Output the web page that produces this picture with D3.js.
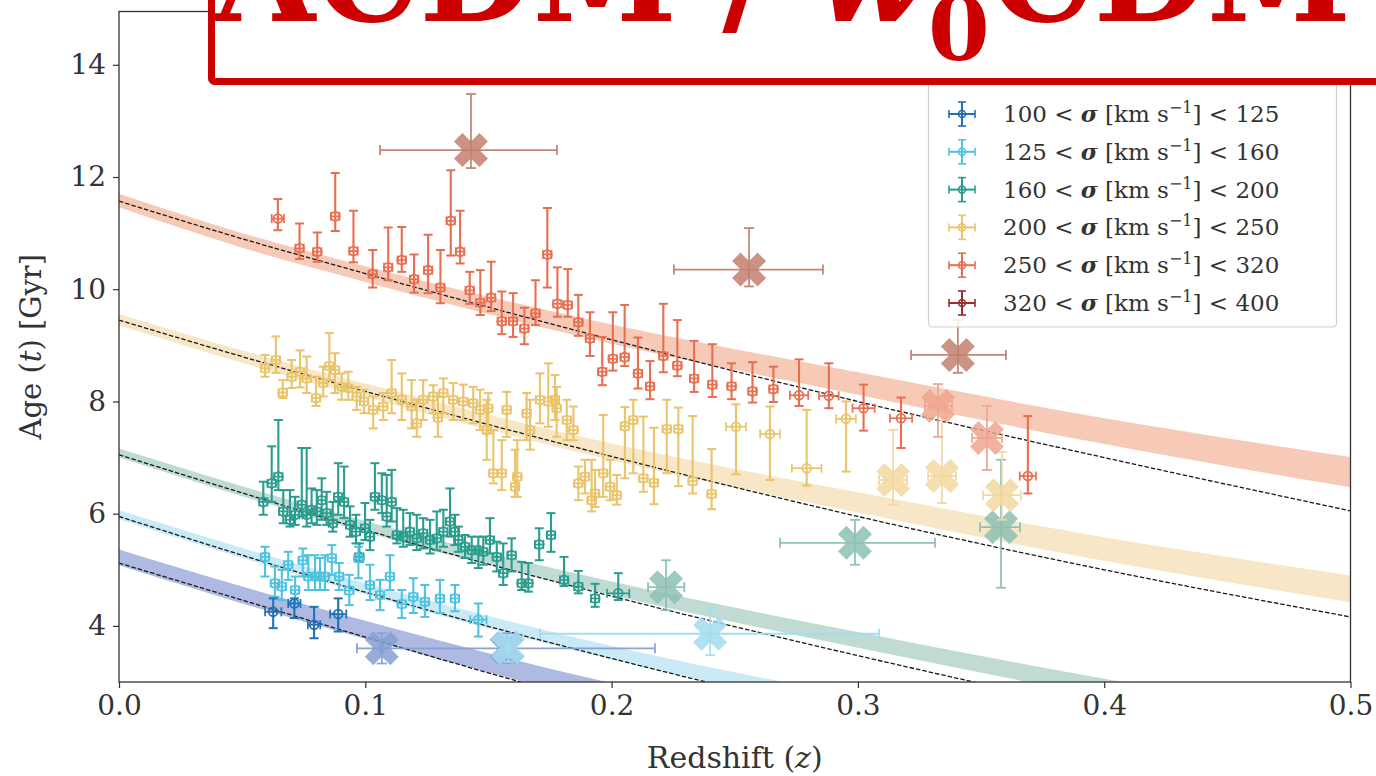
<!DOCTYPE html>
<html><head><meta charset="utf-8">
<script src="https://cdn.jsdelivr.net/npm/d3@7"></script>
<style>body{margin:0;background:#fff}svg{display:block}</style>
</head><body>
<svg id="chart" width="1376" height="776"></svg>
<script>
// ---------------- DATA ----------------
const xTicks = [0.0, 0.1, 0.2, 0.3, 0.4, 0.5];
const yTicks = [4, 6, 8, 10, 12, 14];
const binLabels = [["100","125"],["125","160"],["160","200"],["200","250"],["250","320"],["320","400"]];

// points: [z, age, ageMin, ageMax, zErr(optional)]
const pts100 = [
  [0.0626,4.25,3.96,4.49,0.0033],[0.0712,4.40,4.14,4.49,0.0025],
  [0.0792,4.02,3.78,4.34,0.0025],[0.0890,4.21,3.90,4.49,0.0033]
];
const pts125 = [
  [0.0593,5.23,4.88,5.41],[0.0633,4.76,4.52,5.06],[0.0661,4.70,4.46,5.00],[0.0687,5.09,4.82,5.32],
  [0.0715,4.64,4.40,4.88],[0.0746,5.17,4.88,5.38],[0.0769,4.88,4.64,5.26],[0.0796,4.88,4.64,5.26],
  [0.0816,4.88,4.64,5.21],[0.0836,4.88,4.64,5.26],[0.0864,5.21,4.91,5.44],[0.0894,4.88,4.64,5.12],
  [0.0935,4.63,4.37,4.91],[0.0972,5.21,4.85,5.41],[0.1019,4.73,4.46,5.09],[0.1060,4.55,4.28,4.82],
  [0.1100,4.88,4.64,5.26],[0.1148,4.39,4.14,4.64],[0.1195,4.52,4.23,4.85],[0.1242,4.43,4.16,4.73],
  [0.1303,4.49,4.23,4.82],[0.1364,4.49,4.26,4.73],[0.1459,4.11,3.81,4.40,0.0033]
];
const pts160 = [
  [0.0586,6.21,5.98,6.57],[0.0620,6.54,6.21,7.20],[0.0647,6.66,6.42,7.67],[0.0667,6.04,5.83,6.42],
  [0.0694,5.89,5.77,6.42],[0.0715,5.98,5.80,6.30],[0.0742,6.16,5.95,7.17],[0.0762,5.98,5.77,7.17],
  [0.0782,6.07,5.83,6.45],[0.0803,6.04,5.80,6.42],[0.0823,6.24,5.89,6.63],[0.0843,6.01,5.80,6.39],
  [0.0868,5.83,5.68,6.21],[0.0890,6.30,5.98,6.90],[0.0914,6.21,5.92,6.84],[0.0938,5.80,5.59,6.13],
  [0.0962,5.68,5.47,5.98],[0.0976,5.23,5.14,5.47],[0.0999,5.74,5.53,6.19],[0.1019,5.59,5.35,5.89],
  [0.1039,6.30,6.07,6.90],[0.1067,6.24,6.01,6.72],[0.1087,5.95,5.77,6.69],[0.1107,6.21,5.86,6.78],
  [0.1128,5.62,5.47,6.10],[0.1154,5.59,5.41,6.07],[0.1181,5.68,5.44,6.01],[0.1209,5.56,5.35,5.98],
  [0.1235,5.65,5.38,5.92],[0.1263,5.53,5.29,5.89],[0.1290,5.56,5.35,6.04],[0.1317,5.68,5.41,6.07],
  [0.1344,5.86,5.59,6.45],[0.1364,5.68,5.44,5.98],[0.1378,5.53,5.32,5.77],[0.1405,5.41,5.21,5.62],
  [0.1432,5.35,5.12,5.59],[0.1459,5.35,5.03,5.59],[0.1479,5.32,5.09,5.59],[0.1506,5.53,5.29,5.92],
  [0.1534,5.23,4.97,5.50],[0.1560,4.94,4.73,5.47],[0.1594,5.26,4.97,5.56],[0.1635,4.76,4.64,5.14],
  [0.1662,4.76,4.61,5.12],[0.1706,5.45,5.17,5.74],[0.1754,5.62,5.32,6.01],[0.1807,4.82,4.71,5.23],
  [0.1865,4.70,4.58,4.98],[0.1933,4.49,4.34,4.75],[0.2027,4.58,4.46,4.94,0.0045]
];
const pts200 = [
  [0.0593,8.59,8.44,8.83],[0.0637,8.74,8.51,9.16],[0.0665,8.16,8.06,8.38],[0.0701,8.44,8.24,8.74],
  [0.0735,8.53,8.25,8.91],[0.0762,8.41,8.15,8.80],[0.0800,8.06,7.92,8.44],[0.0829,8.33,8.09,8.62],
  [0.0854,8.63,8.38,9.22],[0.0877,8.56,8.15,8.86],[0.0904,8.26,8.03,8.50],[0.0931,8.24,8.03,8.53],
  [0.0965,8.09,7.85,8.26],[0.0995,8.00,7.79,8.21],[0.1032,7.85,7.52,8.09],[0.1073,7.91,7.67,8.15],
  [0.1107,8.15,7.79,8.74],[0.1148,8.03,7.67,8.50],[0.1188,7.91,7.52,8.38],[0.1209,7.61,7.37,8.03],
  [0.1235,8.03,7.67,8.38],[0.1276,8.09,7.79,8.29],[0.1295,7.71,7.37,8.09],[0.1317,8.15,7.79,8.41],
  [0.1357,8.03,7.67,8.33],[0.1398,8.00,7.67,8.30],[0.1438,7.97,7.61,8.26],[0.1466,7.85,7.49,8.21],
  [0.1493,7.49,6.96,8.03],[0.1499,7.88,7.43,8.15],[0.1520,6.72,6.54,7.49],[0.1554,6.72,6.42,7.31],
  [0.1574,7.85,7.37,8.17],[0.1608,6.48,6.30,7.14],[0.1617,6.66,6.30,7.31],[0.1655,7.79,7.31,8.15],
  [0.1669,7.49,7.14,8.03],[0.1709,8.03,7.61,8.50],[0.1743,8.00,7.55,8.68],[0.1770,8.03,7.67,8.47],
  [0.1777,7.88,7.37,8.26],[0.1818,7.67,7.31,8.03],[0.1845,7.49,7.31,7.91],[0.1865,6.54,6.24,6.84],
  [0.1892,6.66,6.36,6.96],[0.1919,6.24,6.04,6.96],[0.1933,6.36,6.12,6.78],[0.1966,6.72,6.30,7.76],
  [0.1994,6.48,6.24,6.96],[0.2021,6.33,6.16,6.69],[0.2054,7.56,6.63,7.90],[0.2088,7.67,6.72,8.03],
  [0.2129,6.63,6.39,7.73],[0.2172,6.55,6.17,7.53],[0.2224,7.51,6.72,8.03],[0.2271,7.51,6.49,7.89],
  [0.2329,6.58,6.36,7.74],[0.2406,6.35,6.08,7.15],[0.2505,7.55,6.70,7.95,0.004],[0.2643,7.42,6.60,7.91,0.004],
  [0.2792,6.81,6.50,7.85,0.006],[0.2952,7.69,6.75,8.00,0.004]
];
const pts250 = [
  [0.0645,11.26,11.05,11.61,0.0025],[0.0733,10.73,10.54,11.17],[0.0805,10.67,10.49,11.01],[0.0878,11.30,11.04,12.07],
  [0.0952,10.68,10.48,11.40],[0.1030,10.27,10.03,10.70],[0.1093,10.39,10.16,11.10],[0.1148,10.52,10.31,11.11],
  [0.1198,10.18,9.94,10.62],[0.1255,10.34,9.93,10.97],[0.1305,10.03,9.75,10.70],[0.1347,11.22,10.60,12.12],
  [0.1385,10.67,10.46,11.40],[0.1424,9.98,9.74,10.31],[0.1467,9.76,9.54,10.34],[0.1511,9.85,9.61,10.49],
  [0.1554,9.43,9.20,9.96],[0.1600,9.43,9.15,9.93],[0.1646,9.30,9.02,9.67],[0.1691,9.57,9.36,10.16],
  [0.1739,10.62,10.03,11.45],[0.1780,9.74,9.51,10.39],[0.1822,9.72,9.51,10.36],[0.1865,9.41,9.17,9.90],
  [0.1912,9.12,8.81,9.59],[0.1962,8.53,8.29,9.15],[0.2005,8.76,8.55,9.59],[0.2053,8.79,8.63,9.72],
  [0.2107,8.50,8.23,9.14],[0.2156,8.27,8.04,8.72],[0.2210,8.81,8.52,9.74],[0.2267,8.64,8.45,9.45],
  [0.2335,8.41,8.17,9.08],[0.2409,8.30,8.08,9.02],[0.2487,8.27,8.04,8.68],[0.2572,8.18,7.98,8.70],
  [0.2657,8.22,7.99,8.62],[0.2761,8.11,7.92,8.75,0.0037],[0.2882,8.10,7.88,8.68,0.004],[0.3023,7.88,7.48,8.30,0.0045],
  [0.3175,7.70,7.17,8.07,0.0045],[0.3690,6.67,6.36,7.74,0.0033]
];

// stacked/average measurements (large X): [z, age, ageMin, ageMax, zMin, zMax]
const avg100 = [[0.1067,3.60,3.33,3.87,0.1060,0.1074],[0.1574,3.60,3.34,3.87,0.0966,0.2176]];
const avg125 = [[0.1580,3.61,3.36,3.84,0.1572,0.1588],[0.2400,3.86,3.48,4.32,0.1709,0.3086]];
const avg160 = [[0.2221,4.69,4.28,5.17,0.2148,0.2295],[0.2988,5.48,5.09,5.89,0.2684,0.3313],[0.3581,5.76,4.68,6.96,0.3496,0.3658]];
const avg200 = [[0.3143,6.60,6.16,7.49,0.3086,0.3199],[0.3341,6.67,6.19,7.72,0.3285,0.3398],[0.3585,6.33,5.89,7.10,0.3508,0.3662]];
const avg250 = [[0.3325,7.92,7.37,8.31,0.3272,0.3382],[0.3524,7.35,6.78,7.92,0.3463,0.3585]];
const avg320 = [[0.1429,12.48,12.16,13.48,0.1060,0.1778],[0.2558,10.35,10.05,11.09,0.2253,0.2858],[0.3406,8.83,8.51,9.45,0.3216,0.3601]];

// model bands and dashed model lines sampled on this redshift grid
const modelZ = [0, 0.05, 0.1, 0.2, 0.3, 0.4, 0.5];
const band100Lo = [5.08,4.40,3.77,2.62,1.70,0.83,0.11], band100Hi = [5.36,4.70,4.09,2.98,2.10,1.27,0.59];
const band125Lo = [5.90,5.21,4.56,3.40,2.46,1.60,0.90], band125Hi = [6.06,5.39,4.76,3.64,2.74,1.92,1.26];
const band160Lo = [7.00,6.31,5.67,4.55,3.61,2.74,1.98], band160Hi = [7.16,6.49,5.87,4.79,3.89,3.06,2.34];
const band200Lo = [9.36,8.69,8.08,6.95,6.02,5.16,4.42], band200Hi = [9.56,8.91,8.32,7.25,6.38,5.58,4.90];
const band250Lo = [11.46,10.74,10.13,9.03,8.12,7.24,6.47], band250Hi = [11.70,11.00,10.41,9.37,8.52,7.70,7.01];
const line100 = [5.12,4.46,3.80,2.56,1.50,0.55,-0.20];
const line125 = [5.95,5.26,4.60,3.42,2.36,1.40,0.60];
const line160 = [7.05,6.37,5.71,4.53,3.47,2.50,1.65];
const line200 = [9.45,8.80,8.18,7.02,5.95,5.00,4.16];
const line250 = [11.57,10.90,10.28,9.10,8.00,7.00,6.05];

// ---------------- STYLE ----------------
const colors  = ["#2171b5","#4ec3e0","#2a9d8f","#e9c46a","#e76f51","#9b2d2d"];
const bandCol = ["#aab6df","#c6e9f6","#bdd9d1","#f7e6c3","#f7c7b4"];
const xCol    = ["#85a0d3","#a3dcef","#8dbfb4","#f2d8a0","#efa58e","#c3806f"];
const FONT = "DejaVu Serif, serif";

const svg = d3.select("#chart");
const W = 1376, H = 776;
const L = 119, R = 1350.5, T = 11.5, B = 682;
const x = d3.scaleLinear().domain([0, 0.5]).range([L, R]);
const y = d3.scaleLinear().domain([3, 14.95]).range([B, T]);

svg.append("defs").append("clipPath").attr("id","clip")
  .append("rect").attr("x",L).attr("y",T).attr("width",R-L).attr("height",B-T);

const plot = svg.append("g").attr("clip-path","url(#clip)");

// bands
const bands = [[band100Lo,band100Hi],[band125Lo,band125Hi],[band160Lo,band160Hi],[band200Lo,band200Hi],[band250Lo,band250Hi]];
const area = d3.area().x(d => x(d.z)).y0(d => y(d.lo)).y1(d => y(d.hi)).curve(d3.curveMonotoneX);
bands.forEach((b,i) => {
  const rows = modelZ.map((z,k) => ({z, lo:b[0][k], hi:b[1][k]}));
  plot.append("path").datum(rows).attr("d", area).attr("fill", bandCol[i]).attr("opacity",0.95);
});
// dashed model lines
const lines = [line100,line125,line160,line200,line250];
const lineGen = d3.line().x(d => x(d.z)).y(d => y(d.v)).curve(d3.curveMonotoneX);
lines.forEach(l => {
  const rows = modelZ.map((z,k) => ({z, v:l[k]}));
  plot.append("path").datum(rows).attr("d", lineGen).attr("fill","none")
    .attr("stroke","#1a1a1a").attr("stroke-width",1.3).attr("stroke-dasharray","4.5,2");
});

// individual points
function drawPoints(data, color) {
  const g = plot.append("g").attr("stroke", color).attr("fill","none");
  const pg = g.selectAll("g").data(data).join("g");
  const cap = 4.5;
  pg.each(function(d){
    const s = d3.select(this);
    const cx = x(d[0]), cy = y(d[1]);
    const ze = d[4] !== undefined ? d[4] : 0.0017;
    const y1 = y(d[2]), y2 = y(d[3]);
    const x1 = x(d[0]-ze), x2 = x(d[0]+ze);
    s.append("line").attr("x1",cx).attr("x2",cx).attr("y1",y1).attr("y2",y2).attr("stroke-width",2.1);
    s.append("line").attr("x1",cx-cap).attr("x2",cx+cap).attr("y1",y1).attr("y2",y1).attr("stroke-width",2);
    s.append("line").attr("x1",cx-cap).attr("x2",cx+cap).attr("y1",y2).attr("y2",y2).attr("stroke-width",2);
    s.append("line").attr("x1",x1).attr("x2",x2).attr("y1",cy).attr("y2",cy).attr("stroke-width",1.7);
    s.append("line").attr("x1",x1).attr("x2",x1).attr("y1",cy-cap).attr("y2",cy+cap).attr("stroke-width",1.7);
    s.append("line").attr("x1",x2).attr("x2",x2).attr("y1",cy-cap).attr("y2",cy+cap).attr("stroke-width",1.7);
    s.append("circle").attr("cx",cx).attr("cy",cy).attr("r",4.4).attr("stroke-width",1.8);
  });
}
const allPts = [pts100,pts125,pts160,pts200,pts250];
[3,4,2,1,0].forEach(i => drawPoints(allPts[i], colors[i]));

// big X markers
function xPath(u) {
  const v = [[-1,-2],[0,-1],[1,-2],[2,-1],[1,0],[2,1],[1,2],[0,1],[-1,2],[-2,1],[-1,0],[-2,-1]];
  return "M" + v.map(p => (p[0]*u)+","+(p[1]*u)).join("L") + "Z";
}
function drawAvg(data, color) {
  const g = plot.append("g");
  data.forEach(d => {
    const cx = x(d[0]), cy = y(d[1]);
    const cap = 5;
    const e = g.append("g").attr("stroke", color).attr("stroke-width",1.8).attr("opacity",0.95);
    e.append("line").attr("x1",cx).attr("x2",cx).attr("y1",y(d[2])).attr("y2",y(d[3]));
    e.append("line").attr("x1",cx-cap).attr("x2",cx+cap).attr("y1",y(d[2])).attr("y2",y(d[2]));
    e.append("line").attr("x1",cx-cap).attr("x2",cx+cap).attr("y1",y(d[3])).attr("y2",y(d[3]));
    e.append("line").attr("x1",x(d[4])).attr("x2",x(d[5])).attr("y1",cy).attr("y2",cy);
    e.append("line").attr("x1",x(d[4])).attr("x2",x(d[4])).attr("y1",cy-cap).attr("y2",cy+cap);
    e.append("line").attr("x1",x(d[5])).attr("x2",x(d[5])).attr("y1",cy-cap).attr("y2",cy+cap);
    g.append("path").attr("d", xPath(8.5)).attr("transform",`translate(${cx},${cy})`)
      .attr("fill", color).attr("opacity",0.85);
  });
}
[avg100,avg125,avg160,avg200,avg250,avg320].forEach((a,i) => drawAvg(a, xCol[i]));

// axes
const axisCol = "#333";
const gx = svg.append("g").attr("transform",`translate(0,${B})`)
  .call(d3.axisBottom(x).tickValues(xTicks).tickFormat(d3.format(".1f")).tickSize(6).tickSizeOuter(0).tickPadding(7));
const gy = svg.append("g").attr("transform",`translate(${L},0)`)
  .call(d3.axisLeft(y).tickValues(yTicks).tickFormat(d3.format("d")).tickSize(6).tickSizeOuter(0).tickPadding(7));
[gx,gy].forEach(g => {
  g.select(".domain").remove();
  g.selectAll(".tick line").attr("stroke",axisCol).attr("stroke-width",1.2);
  g.selectAll(".tick text").attr("fill",axisCol).style("font-family",FONT).style("font-size","28px");
});
svg.append("rect").attr("x",L).attr("y",T).attr("width",R-L).attr("height",B-T)
  .attr("fill","none").attr("stroke",axisCol).attr("stroke-width",1.3);

// axis labels
const xl = svg.append("text").attr("x",(L+R)/2).attr("y",768).attr("text-anchor","middle")
  .attr("fill",axisCol).style("font-family",FONT).style("font-size","30px");
xl.append("tspan").text("Redshift (");
xl.append("tspan").style("font-style","italic").text("z");
xl.append("tspan").text(")");
const yl = svg.append("text").attr("transform",`translate(41,${(T+B)/2}) rotate(-90)`).attr("text-anchor","middle")
  .attr("fill",axisCol).style("font-family",FONT).style("font-size","29px");
yl.append("tspan").text("Age (");
yl.append("tspan").style("font-style","italic").text("t");
yl.append("tspan").text(") [Gyr]");

// legend
const lg = svg.append("g");
lg.append("rect").attr("x",928.5).attr("y",60).attr("width",408).attr("height",267).attr("rx",4)
  .attr("fill","#fff").attr("fill-opacity",0.85).attr("stroke","#d0d0d0").attr("stroke-width",1.2);
binLabels.forEach((b,i) => {
  const cy = 114 + i*37.8, cx = 962;
  const c = colors[i];
  const e = lg.append("g").attr("stroke",c).attr("fill","none");
  e.append("line").attr("x1",cx-13).attr("x2",cx+13).attr("y1",cy).attr("y2",cy).attr("stroke-width",2);
  e.append("line").attr("x1",cx-13).attr("x2",cx-13).attr("y1",cy-4).attr("y2",cy+4).attr("stroke-width",1.6);
  e.append("line").attr("x1",cx+13).attr("x2",cx+13).attr("y1",cy-4).attr("y2",cy+4).attr("stroke-width",1.6);
  e.append("line").attr("x1",cx).attr("x2",cx).attr("y1",cy-12).attr("y2",cy+12).attr("stroke-width",2);
  e.append("line").attr("x1",cx-4).attr("x2",cx+4).attr("y1",cy-12).attr("y2",cy-12).attr("stroke-width",1.6);
  e.append("line").attr("x1",cx-4).attr("x2",cx+4).attr("y1",cy+12).attr("y2",cy+12).attr("stroke-width",1.6);
  e.append("circle").attr("cx",cx).attr("cy",cy).attr("r",3.5).attr("stroke-width",1.6);
  const t = lg.append("text").attr("x",1003).attr("y",cy+8).attr("fill",axisCol)
    .style("font-family",FONT).style("font-size","23px");
  t.append("tspan").text(b[0] + " < ");
  t.append("tspan").style("font-weight","bold").style("font-style","italic").text("σ");
  t.append("tspan").text(" [km s");
  t.append("tspan").attr("dy",-9).style("font-size","16px").text("−1");
  t.append("tspan").attr("dy",9).text("] < " + b[1]);
});

// title box
svg.append("rect").attr("x",211.5).attr("y",-20).attr("width",W-211.5+20).attr("height",101.5).attr("rx",3)
  .attr("fill","#fff").attr("stroke","#cc0000").attr("stroke-width",7);
const title = svg.append("text").attr("x",214).attr("y",21).attr("fill","#cc0000")
  .style("font-family",FONT).style("font-weight","bold").style("font-size","136px");
title.append("tspan").text("ΛCDM / ");
title.append("tspan").style("font-style","italic").text("w");
const sub = title.append("tspan").attr("dy",39).style("font-size","92px").text("0");
title.append("tspan").attr("dy",-39).text("CDM");
const tl = title.node().getComputedTextLength();
const fs = 136 * 1137 / tl;
title.style("font-size", fs + "px");
sub.style("font-size",(fs*0.68)+"px");
</script>
</body></html>
